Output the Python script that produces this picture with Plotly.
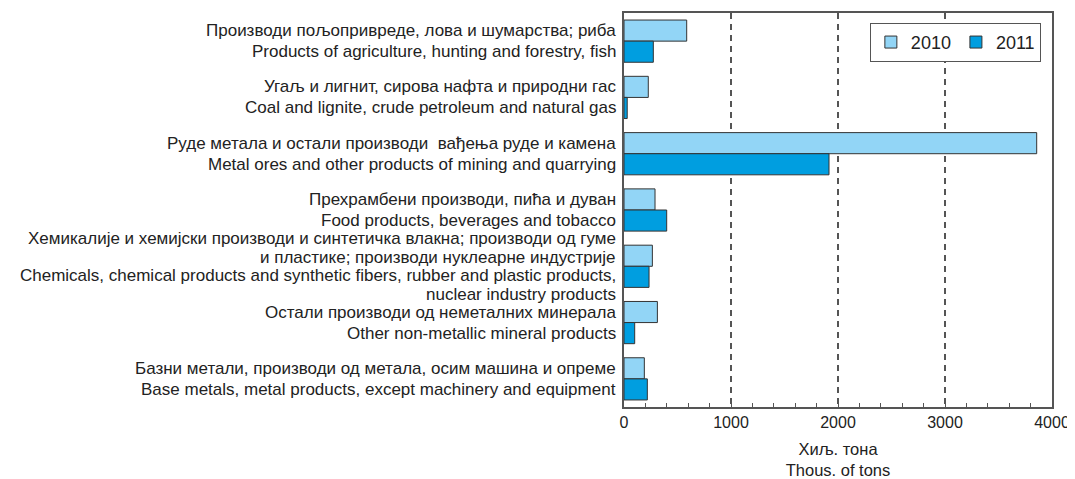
import plotly.graph_objects as go

# product groups, top to bottom (Serbian line, English line)
categories_sr = [
    "Производи пољопривреде, лова и шумарства; риба",
    "Угаљ и лигнит, сирова нафта и природни гас",
    "Руде метала и остали производи  вађења руде и камена",
    "Прехрамбени производи, пића и дуван",
    "Хемикалије и хемијски производи и синтетичка влакна; производи од гуме<br>и пластике; производи нуклеарне индустрије",
    "Остали производи од неметалних минерала",
    "Базни метали, производи од метала, осим машина и опреме",
]
categories_en = [
    "Products of agriculture, hunting and forestry, fish",
    "Coal and lignite, crude petroleum and natural gas",
    "Metal ores and other products of mining and quarrying",
    "Food products, beverages and tobacco",
    "Chemicals, chemical products and synthetic fibers, rubber and plastic products,<br>nuclear industry products",
    "Other non-metallic mineral products",
    "Base metals, metal products, except machinery and equipment",
]
values_2010 = [586, 227, 3857, 290, 265, 312, 190]
values_2011 = [274, 30, 1916, 399, 234, 100, 218]

keys = list(range(len(categories_sr)))

font_family = "Liberation Sans, Arial, sans-serif"
text_color = "#222"
edge = "#333"
frame = "#555"

fig = go.Figure()
fig.add_trace(go.Bar(name="2010", y=keys, x=values_2010, orientation="h",
                     marker=dict(color="#92d5f6", line=dict(color=edge, width=1))))
fig.add_trace(go.Bar(name="2011", y=keys, x=values_2011, orientation="h",
                     marker=dict(color="#009ee0", line=dict(color=edge, width=1))))

# category labels: each text line placed next to the bars of its group
annotations = []
for k, sr, en in zip(keys, categories_sr, categories_en):
    lines = sr.split("<br>") + en.split("<br>")
    step = 21 if len(lines) == 2 else 18.5
    for i, line in enumerate(lines):
        shift = (len(lines) - 1) / 2 * step - i * step
        annotations.append(dict(text=line, xref="paper", x=0, xanchor="right", xshift=-6,
                                yref="y", y=k, yshift=shift, yanchor="middle",
                                showarrow=False, font=dict(size=17, color=text_color)))

# the page body has an 8px margin, so the figure is sized to fit the window
fig.update_layout(
    width=1067, height=471,
    margin=dict(l=616, r=23, t=5, b=72),
    paper_bgcolor="white", plot_bgcolor="white",
    font=dict(family=font_family, size=16, color=text_color),
    barmode="group", bargap=0.25, bargroupgap=0,
    annotations=annotations,
    legend=dict(orientation="h", x=0.974, xanchor="right", y=0.975, yanchor="top",
                bordercolor=frame, borderwidth=1, font=dict(size=18),
                tracegroupgap=0),
    xaxis=dict(range=[0, 4000], dtick=1000, showgrid=True, gridcolor=frame,
               griddash="6px,5px", gridwidth=1.5, zeroline=False, automargin=False,
               showline=True, linecolor=frame, linewidth=1.5, mirror=True,
               ticks="inside", ticklen=4, tickcolor=frame,
               minor=dict(dtick=200, ticks="inside", ticklen=4, tickcolor=frame, showgrid=False),
               tickfont=dict(size=16),
               title=dict(text="Хиљ. тона<br>Thous. of tons", font=dict(size=16.5), standoff=18)),
    yaxis=dict(range=[6.5, -0.5], showticklabels=False, automargin=False,
               showgrid=False, zeroline=False, showline=True, linecolor=frame,
               linewidth=1.5, mirror=True, ticks=""),
)

fig.write_html("out.html")
